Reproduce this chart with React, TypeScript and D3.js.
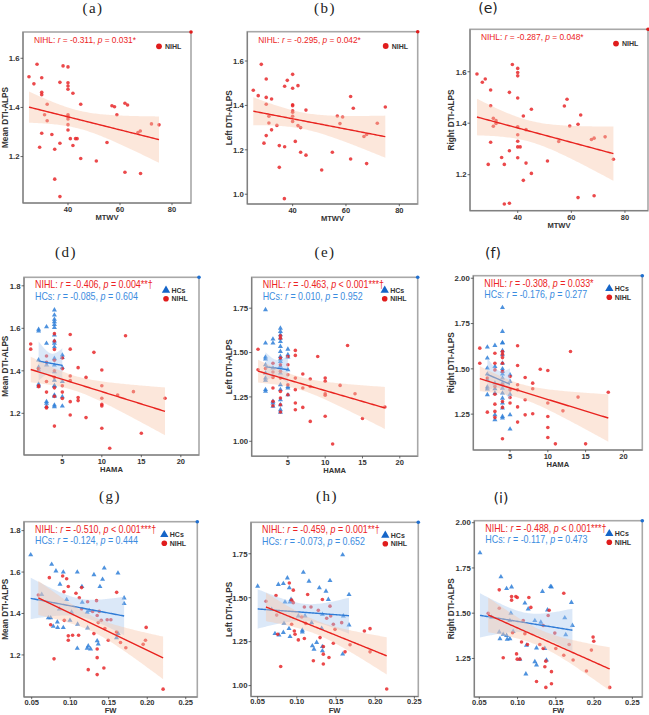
import React from "react";
import * as d3 from "d3";

type Pt = [number, number];

// ---------- data ----------
// row 1: MTWV vs DTI-ALPS (NIHL only)
const mtwvMeanNIHL: Pt[] = [
  [25, 1.525], [26.9, 1.496], [28.1, 1.576], [29.9, 1.521], [29.9, 1.462], [29.9, 1.452], [32, 1.413], [31, 1.37],
  [32, 1.346], [29.9, 1.295], [29.1, 1.238], [33.8, 1.29], [34.9, 1.23], [34.9, 1.108], [36.9, 1.037], [36.9, 1.254],
  [36.9, 1.502], [38.1, 1.569], [40, 1.565], [40, 1.5], [40, 1.487], [40, 1.474], [40, 1.37], [40, 1.363], [40, 1.353],
  [40, 1.33], [40, 1.308], [40.9, 1.273], [41.9, 1.458], [41.9, 1.245], [42.9, 1.273], [43.5, 1.273], [44.9, 1.413],
  [44.9, 1.192], [50.9, 1.182], [55, 1.257], [56.9, 1.407], [57.9, 1.403], [58.8, 1.37], [61.9, 1.417], [62.9, 1.41],
  [61.9, 1.136], [66.9, 1.298], [67.8, 1.304], [67.9, 1.131], [72.1, 1.333], [75, 1.329],
];
const mtwvLeftNIHL: Pt[] = [
  [25.25, 1.468], [27.1, 1.444], [28.25, 1.585], [29.25, 1.23], [30.1, 1.519], [30.1, 1.436], [30.1, 1.405], [30.1, 1.264],
  [31.1, 1.351], [31.1, 1.321], [32.1, 1.429], [32.1, 1.29], [34.1, 1.31], [35, 1.219], [35, 1.121], [36.9, 0.98],
  [37, 1.486], [37, 1.214], [38, 1.513], [40, 1.54], [40, 1.477], [40, 1.403], [40, 1.399], [40, 1.376], [40, 1.369],
  [40, 1.351], [40, 1.328], [41, 1.238], [42, 1.489], [42, 1.309], [43, 1.3], [43, 1.189], [45, 1.379], [45, 1.176],
  [50.9, 1.109], [54.9, 1.189], [56.75, 1.352], [57.75, 1.318], [58.75, 1.348], [61.75, 1.44], [62.75, 1.387],
  [61.75, 1.159], [66.75, 1.26], [67.75, 1.269], [67.75, 1.138], [71.75, 1.32], [74.75, 1.393],
];
const mtwvRightNIHL: Pt[] = [
  [24.8, 1.591], [26.8, 1.559], [27.9, 1.572], [29, 1.24], [29.9, 1.529], [29.9, 1.468], [29.9, 1.326], [30.9, 1.419],
  [30.9, 1.388], [31.9, 1.41], [31.9, 1.399], [34, 1.267], [35, 1.24], [35, 1.086], [36.9, 1.52], [36.9, 1.293],
  [36.9, 1.089], [38, 1.628], [40, 1.613], [40, 1.597], [40, 1.584], [40, 1.498], [40, 1.386], [40, 1.355], [40, 1.33],
  [40, 1.308], [40, 1.266], [40.9, 1.308], [42.1, 1.428], [42.1, 1.178], [43.1, 1.375], [43.1, 1.245], [45.1, 1.454],
  [45.1, 1.205], [51.1, 1.253], [55.3, 1.329], [57.4, 1.467], [58.4, 1.493], [59.4, 1.389], [62.5, 1.396],
  [63.5, 1.432], [62.5, 1.111], [67.5, 1.337], [68.5, 1.342], [68.5, 1.118], [72.6, 1.347], [75.7, 1.26],
];

// row 2: HAMA vs DTI-ALPS
const hamaMeanHC: Pt[] = [
  [2, 1.595], [2, 1.587], [2, 1.451], [2, 1.417], [2, 1.404], [2, 1.337], [2, 1.328],
  [3, 1.607], [3, 1.529], [3, 1.427], [3, 1.255], [3, 1.247], [3, 1.232],
  [4, 1.686], [4, 1.662], [4, 1.642], [4, 1.631], [4, 1.618], [4, 1.604], [4, 1.568], [4, 1.54], [4, 1.529],
  [4, 1.513], [4, 1.458], [4, 1.427], [4, 1.395], [4, 1.356], [4, 1.328], [4, 1.286], [4, 1.239], [4, 1.231],
  [4, 1.33], [4, 1.28],
  [5, 1.474], [5, 1.463], [5, 1.416], [5, 1.349], [5, 1.278], [5, 1.234],
];
const hamaMeanNIHL: Pt[] = [
  [1, 1.526], [1, 1.502], [2, 1.41], [2, 1.33], [2, 1.325],
  [3, 1.47], [3, 1.44], [3, 1.35], [3, 1.3], [3, 1.23], [3, 1.225],
  [4, 1.575], [4, 1.54], [4, 1.5], [4, 1.45], [4, 1.4], [4, 1.37], [4, 1.32], [4, 1.28], [4, 1.14],
  [5, 1.46], [5, 1.41], [5, 1.33], [5, 1.3], [5, 1.27],
  [6, 1.571], [6, 1.502], [6, 1.376], [6, 1.354], [6, 1.255], [6, 1.192],
  [7, 1.415], [7, 1.274], [7, 1.26], [8, 1.369], [8, 1.18], [9, 1.487],
  [10, 1.404], [10, 1.33], [10, 1.271], [10, 1.242], [10, 1.235], [10, 1.13],
  [11, 1.036], [12, 1.286], [13, 1.565], [14, 1.302], [15, 1.106], [18, 1.271],
];
const hamaLeftHC: Pt[] = [
  [2, 1.741], [2, 1.553], [2, 1.474], [2, 1.463], [2, 1.431], [2, 1.384], [2, 1.356], [2, 1.343], [2, 1.291], [2, 1.281],
  [3, 1.576], [3, 1.553], [3, 1.412], [3, 1.225], [3, 1.216], [3, 1.197],
  [4, 1.637], [4, 1.619], [4, 1.6], [4, 1.581], [4, 1.562], [4, 1.534], [4, 1.506], [4, 1.478], [4, 1.463],
  [4, 1.45], [4, 1.422], [4, 1.384], [4, 1.319], [4, 1.291], [4, 1.234], [4, 1.206], [4, 1.178], [4, 1.163],
  [5, 1.519], [5, 1.488], [5, 1.474], [5, 1.403], [5, 1.309], [5, 1.3], [5, 1.262],
];
const hamaLeftNIHL: Pt[] = [
  [1, 1.519], [1, 1.403], [2, 1.41],
  [3, 1.44], [3, 1.39], [3, 1.36], [3, 1.3], [3, 1.225], [3, 1.2],
  [4, 1.594], [4, 1.581], [4, 1.469], [4, 1.431], [4, 1.394], [4, 1.356], [4, 1.281], [4, 1.244], [4, 1.206], [4, 1.165],
  [5, 1.478], [5, 1.431], [5, 1.375], [5, 1.319], [5, 1.262],
  [6, 1.512], [6, 1.484], [6, 1.356], [6, 1.291], [6, 1.216], [6, 1.178],
  [7, 1.379], [7, 1.3], [7, 1.191], [8, 1.351], [8, 1.309], [8, 1.112], [9, 1.478],
  [10, 1.356], [10, 1.338], [10, 1.268], [10, 1.259], [10, 1.141],
  [11, 0.985], [12, 1.315], [13, 1.54], [14, 1.268], [15, 1.128], [18, 1.193],
];
const hamaRightHC: Pt[] = [
  [2, 1.62], [2, 1.559], [2, 1.504], [2, 1.471], [2, 1.439], [2, 1.4], [2, 1.388], [2, 1.357],
  [3, 1.629], [3, 1.513], [3, 1.421], [3, 1.39], [3, 1.366], [3, 1.246], [3, 1.219],
  [4, 1.838], [4, 1.706], [4, 1.645], [4, 1.642], [4, 1.6], [4, 1.577], [4, 1.531], [4, 1.5], [4, 1.485], [4, 1.471],
  [4, 1.449], [4, 1.421], [4, 1.393], [4, 1.366], [4, 1.338], [4, 1.311], [4, 1.283], [4, 1.237], [4, 1.228],
  [5, 1.467], [5, 1.43], [5, 1.36], [5, 1.246], [5, 1.167],
];
const hamaRightNIHL: Pt[] = [
  [1, 1.614], [1, 1.531], [2, 1.449], [2, 1.261],
  [3, 1.586], [3, 1.531], [3, 1.494], [3, 1.403], [3, 1.36], [3, 1.305], [3, 1.265], [3, 1.232],
  [4, 1.596], [4, 1.581], [4, 1.562], [4, 1.531], [4, 1.485], [4, 1.412], [4, 1.32], [4, 1.287], [4, 1.114],
  [5, 1.458], [5, 1.384], [5, 1.342], [5, 1.311],
  [6, 1.627], [6, 1.518], [6, 1.412], [6, 1.384], [6, 1.29], [6, 1.206],
  [7, 1.452], [7, 1.329], [7, 1.246], [8, 1.421], [8, 1.39], [8, 1.252], [9, 1.498],
  [10, 1.491], [10, 1.311], [10, 1.237], [10, 1.176], [10, 1.121],
  [11, 1.086], [12, 1.268], [13, 1.596], [14, 1.344], [15, 1.086], [18, 1.371],
];

// row 3: FW vs DTI-ALPS
const fwMeanHC: Pt[] = [
  [0.0487, 1.683], [0.0759, 1.637], [0.0815, 1.605], [0.091, 1.6], [0.1092, 1.6], [0.1308, 1.587], [0.1442, 1.619],
  [0.162, 1.595], [0.142, 1.565], [0.1152, 1.53], [0.1386, 1.53], [0.0867, 1.541], [0.17, 1.475], [0.17, 1.448],
  [0.0954, 1.467], [0.1156, 1.454], [0.063, 1.492], [0.0716, 1.379], [0.0746, 1.379], [0.078, 1.338], [0.0833, 1.359],
  [0.0837, 1.332], [0.091, 1.332], [0.0997, 1.367], [0.1096, 1.348], [0.0859, 1.422], [0.1018, 1.406], [0.122, 1.406],
  [0.1247, 1.414], [0.1092, 1.232], [0.122, 1.232], [0.1234, 1.243], [0.1264, 1.229], [0.135, 1.268], [0.1364, 1.252],
  [0.1226, 1.33], [0.1623, 1.303], [0.1601, 1.283],
];
const fwMeanNIHL: Pt[] = [
  [0.0586, 1.489], [0.0729, 1.573], [0.0746, 1.346], [0.079, 1.181], [0.0902, 1.581], [0.0954, 1.568], [0.0975, 1.53],
  [0.0919, 1.505], [0.0923, 1.367], [0.0975, 1.292], [0.0975, 1.271], [0.1031, 1.295], [0.1075, 1.498], [0.1118, 1.476],
  [0.1148, 1.525], [0.1109, 1.295], [0.1234, 1.129], [0.1148, 1.422], [0.1226, 1.457], [0.1291, 1.41], [0.1308, 1.303],
  [0.1342, 1.462], [0.135, 1.39], [0.1377, 1.41], [0.1364, 1.356], [0.135, 1.229], [0.135, 1.187], [0.135, 1.105],
  [0.1437, 1.137], [0.1403, 1.367], [0.145, 1.327], [0.148, 1.37], [0.1528, 1.37], [0.1494, 1.271], [0.1603, 1.502],
  [0.1601, 1.311], [0.1653, 1.26], [0.1722, 1.235], [0.1947, 1.251], [0.1977, 1.271], [0.1986, 1.333], [0.2206, 1.035],
];
const fwLeftHC: Pt[] = [
  [0.05, 1.565], [0.0764, 1.575], [0.0828, 1.58], [0.0879, 1.612], [0.0904, 1.556], [0.1083, 1.644], [0.1155, 1.594],
  [0.1287, 1.556], [0.1423, 1.597], [0.1372, 1.537], [0.1585, 1.744], [0.1402, 1.49], [0.1666, 1.518], [0.1666, 1.345],
  [0.1585, 1.179], [0.1594, 1.396], [0.0913, 1.475], [0.0849, 1.475], [0.0926, 1.49], [0.0721, 1.296], [0.0772, 1.288],
  [0.0828, 1.302], [0.09, 1.324], [0.0913, 1.279], [0.0836, 1.354], [0.1019, 1.396], [0.107, 1.305], [0.1104, 1.396],
  [0.107, 1.315], [0.1189, 1.358], [0.1198, 1.226], [0.1219, 1.207], [0.1253, 1.245], [0.1317, 1.326], [0.1326, 1.222],
  [0.1326, 1.198], [0.1326, 1.405], [0.0679, 1.433],
];
const fwLeftNIHL: Pt[] = [
  [0.0606, 1.48], [0.0734, 1.513], [0.0743, 1.401], [0.0755, 1.292], [0.0794, 1.109], [0.0904, 1.584], [0.0934, 1.486],
  [0.0955, 1.471], [0.0955, 1.543], [0.0934, 1.349], [0.0968, 1.311], [0.0977, 1.292], [0.1019, 1.26], [0.1062, 1.39],
  [0.1096, 1.447], [0.1113, 1.354], [0.1096, 1.268], [0.1138, 1.518], [0.1181, 1.447], [0.1211, 1.141], [0.1274, 1.428],
  [0.1296, 1.273], [0.1326, 1.49], [0.1338, 1.222], [0.1338, 1.179], [0.1338, 1.123], [0.1381, 1.383], [0.141, 1.16],
  [0.1423, 1.452], [0.1432, 1.396], [0.1466, 1.349], [0.1487, 1.32], [0.1466, 1.241], [0.1572, 1.358], [0.1615, 1.192],
  [0.1679, 1.232], [0.1862, 1.311], [0.1934, 1.324], [0.1934, 1.192], [0.2147, 0.981],
];
const fwRightHC: Pt[] = [
  [0.0509, 1.833], [0.0783, 1.701], [0.0857, 1.636], [0.0922, 1.645], [0.1096, 1.556], [0.1326, 1.62], [0.143, 1.647],
  [0.1443, 1.645], [0.1704, 1.559], [0.1391, 1.518], [0.1617, 1.474], [0.1717, 1.432], [0.0661, 1.478], [0.0913, 1.5],
  [0.09, 1.459], [0.0761, 1.396], [0.0813, 1.383], [0.0857, 1.377], [0.09, 1.359], [0.0865, 1.356], [0.077, 1.359],
  [0.0943, 1.399], [0.103, 1.245], [0.1139, 1.523], [0.1117, 1.323], [0.1109, 1.164], [0.1226, 1.459], [0.1248, 1.308],
  [0.1304, 1.45], [0.1226, 1.232], [0.1248, 1.214], [0.1357, 1.305], [0.1378, 1.241], [0.163, 1.381],
];
const fwRightNIHL: Pt[] = [
  [0.0617, 1.5], [0.0761, 1.629], [0.0761, 1.527], [0.0813, 1.254], [0.0922, 1.592], [0.0978, 1.592], [0.0996, 1.587],
  [0.0922, 1.572], [0.0935, 1.392], [0.0987, 1.275], [0.0996, 1.246], [0.1031, 1.246], [0.1052, 1.341], [0.1096, 1.387],
  [0.113, 1.327], [0.1148, 1.587], [0.1174, 1.532], [0.1074, 1.459], [0.1248, 1.123], [0.1291, 1.327], [0.1335, 1.432],
  [0.1335, 1.305], [0.137, 1.235], [0.1357, 1.204], [0.137, 1.09], [0.14, 1.487], [0.1413, 1.516], [0.1443, 1.177],
  [0.1443, 1.11], [0.1487, 1.39], [0.15, 1.305], [0.1604, 1.61], [0.1604, 1.268], [0.1726, 1.241], [0.1674, 1.327],
  [0.1965, 1.296], [0.1987, 1.368], [0.1996, 1.345], [0.19, 1.181], [0.2204, 1.09],
];

// correlation labels: [r, p-text]
const nihlStats: [string, string][] = [
  ["-0.311", "= 0.031*"], ["-0.295", "= 0.042*"], ["-0.287", "= 0.048*"],
  ["-0.406", "= 0.004**†"], ["-0.463", "< 0.001***†"], ["-0.308", "= 0.033*"],
  ["-0.510", "< 0.001***†"], ["-0.459", "= 0.001**†"], ["-0.488", "< 0.001***†"],
];
const hcStats: ([string, string] | null)[] = [
  null, null, null,
  ["-0.085", "= 0.604"], ["0.010", "= 0.952"], ["-0.176", "= 0.277"],
  ["-0.124", "= 0.444"], ["-0.073", "= 0.652"], ["-0.117", "= 0.473"],
];

const titles = ["(a)", "(b)", "(e)", "(d)", "(e)", "(f)", "(g)", "(h)", "(i)"];
const mtwvTicks = [40, 60, 80];
const hamaTicks = [5, 10, 15, 20];
const fwTicks = [0.05, 0.1, 0.15, 0.2, 0.25];

// ---------- layout ----------
const FONT = "'Liberation Sans', Arial, sans-serif";
const RED = "#E8292B";
const BLUE = "#2F7FD8";

type Panel = {
  box: [number, number, number, number]; // left, top, right, bottom
  xDom: [number, number];
  yDom: [number, number];
  xTicks: number[];
  yTicks: number[];
  xFmt: string;
  yFmt: string;
  xTitle: string;
  xLabDy: number;
  xTitleDy: number;
  yTitle: string;
  yTitleX: number;
  serif: boolean;
  titleX: number;
  titleY: number;
  nihl: Pt[];
  hcs: Pt[] | null;
  annSize: number;
};

const panels: Panel[] = [
  { box: [23, 32, 191, 203], xDom: [22.7, 87.3], yDom: [1.011, 1.707], xTicks: mtwvTicks, yTicks: [1.2, 1.4, 1.6], xFmt: "d", yFmt: ".1f",
    xTitle: "MTWV", xLabDy: 9, xTitleDy: 16.8, yTitle: "Mean DTI-ALPS", yTitleX: 8, serif: true, titleX: 93, titleY: 12.5, nihl: mtwvMeanNIHL, hcs: null, annSize: 9.4 },
  { box: [247.3, 31.7, 417.7, 204], xDom: [23, 86.9], yDom: [0.956, 1.732], xTicks: mtwvTicks, yTicks: [1.0, 1.2, 1.4, 1.6], xFmt: "d", yFmt: ".1f",
    xTitle: "MTWV", xLabDy: 9, xTitleDy: 16.8, yTitle: "Left DTI-ALPS", yTitleX: 232, serif: true, titleX: 325, titleY: 12.5, nihl: mtwvLeftNIHL, hcs: null, annSize: 9.4 },
  { box: [470, 29.3, 648, 210.7], xDom: [22.2, 88.6], yDom: [1.06, 1.765], xTicks: mtwvTicks, yTicks: [1.2, 1.4, 1.6], xFmt: "d", yFmt: ".1f",
    xTitle: "MTWV", xLabDy: 9, xTitleDy: 16.8, yTitle: "Right DTI-ALPS", yTitleX: 453.5, serif: false, titleX: 488, titleY: 12.5, nihl: mtwvRightNIHL, hcs: null, annSize: 9.4 },
  { box: [24, 277.3, 199, 455], xDom: [0.15, 22.3], yDom: [1.004, 1.84], xTicks: hamaTicks, yTicks: [1.2, 1.4, 1.6, 1.8], xFmt: "d", yFmt: ".1f",
    xTitle: "HAMA", xLabDy: 8.8, xTitleDy: 17.2, yTitle: "Mean DTI-ALPS", yTitleX: 8, serif: true, titleX: 66, titleY: 257, nihl: hamaMeanNIHL, hcs: hamaMeanHC, annSize: 10 },
  { box: [251.7, 277.3, 417.7, 456.2], xDom: [0.15, 22.4], yDom: [0.916, 1.924], xTicks: hamaTicks, yTicks: [1.0, 1.25, 1.5, 1.75], xFmt: "d", yFmt: ".2f",
    xTitle: "HAMA", xLabDy: 8.6, xTitleDy: 17.2, yTitle: "Left DTI-ALPS", yTitleX: 232, serif: true, titleX: 325, titleY: 257, nihl: hamaLeftNIHL, hcs: hamaLeftHC, annSize: 10 },
  { box: [473.3, 275.7, 642.3, 450], xDom: [0.14, 22.5], yDom: [1.052, 2.014], xTicks: hamaTicks, yTicks: [1.25, 1.5, 1.75, 2.0], xFmt: "d", yFmt: ".2f",
    xTitle: "HAMA", xLabDy: 8.8, xTitleDy: 17.2, yTitle: "Right DTI-ALPS", yTitleX: 453.5, serif: false, titleX: 493, titleY: 258, nihl: hamaRightNIHL, hcs: hamaRightHC, annSize: 10 },
  { box: [24, 521.7, 197.3, 697], xDom: [0.04, 0.265], yDom: [0.997, 1.843], xTicks: fwTicks, yTicks: [1.2, 1.4, 1.6, 1.8], xFmt: ".2f", yFmt: ".1f",
    xTitle: "FW", xLabDy: 7.8, xTitleDy: 16.2, yTitle: "Mean DTI-ALPS", yTitleX: 8, serif: true, titleX: 110, titleY: 501, nihl: fwMeanNIHL, hcs: fwMeanHC, annSize: 10 },
  { box: [251, 522.3, 418.3, 696.5], xDom: [0.0415, 0.255], yDom: [0.938, 1.929], xTicks: fwTicks, yTicks: [1.0, 1.25, 1.5, 1.75], xFmt: ".2f", yFmt: ".2f",
    xTitle: "FW", xLabDy: 7.8, xTitleDy: 16.5, yTitle: "Left DTI-ALPS", yTitleX: 232, serif: true, titleX: 327, titleY: 501, nihl: fwLeftNIHL, hcs: fwLeftHC, annSize: 10 },
  { box: [474.3, 520.7, 642.3, 697], xDom: [0.0435, 0.263], yDom: [1.037, 2.011], xTicks: fwTicks, yTicks: [1.25, 1.5, 1.75, 2.0], xFmt: ".2f", yFmt: ".2f",
    xTitle: "FW", xLabDy: 7.8, xTitleDy: 16.2, yTitle: "Right DTI-ALPS", yTitleX: 453.5, serif: false, titleX: 501, titleY: 503, nihl: fwRightNIHL, hcs: fwRightHC, annSize: 10 },
];

// linear fit with 95% confidence band (like geom_smooth(method = "lm"))
function fitBand(pts: Pt[]) {
  const n = pts.length;
  const mx = d3.mean(pts, (p) => p[0])!;
  const my = d3.mean(pts, (p) => p[1])!;
  const sxx = d3.sum(pts, (p) => (p[0] - mx) ** 2);
  const sxy = d3.sum(pts, (p) => (p[0] - mx) * (p[1] - my));
  const b = sxy / sxx;
  const a = my - b * mx;
  const s = Math.sqrt(d3.sum(pts, (p) => (p[1] - a - b * p[0]) ** 2) / (n - 2));
  const t = 1.96 + 2.5 / (n - 2);
  const [x0, x1] = d3.extent(pts, (p) => p[0]) as [number, number];
  return d3.range(0, 81).map((i) => {
    const x = x0 + ((x1 - x0) * i) / 80;
    const y = a + b * x;
    const se = s * Math.sqrt(1 / n + (x - mx) ** 2 / sxx);
    return { x, y, lo: y - t * se, hi: y + t * se };
  });
}

const tri = d3.symbol(d3.symbolTriangle, 11)()!;
const triBig = d3.symbol(d3.symbolTriangle, 30)()!;

function Squeezed({ x, y, size, fill, children }: { x: number; y: number; size: number; fill: string; children: React.ReactNode }) {
  return (
    <g transform={`translate(${x},${y}) scale(0.89,1)`}>
      <text x={0} y={0} fontSize={size} fill={fill} fontFamily={FONT}>
        {children}
      </text>
    </g>
  );
}

function StatLine({ label, stat }: { label: string; stat: [string, string] }) {
  return (
    <>
      {label}: <tspan fontStyle="italic">r</tspan> = {stat[0]}, <tspan fontStyle="italic">p</tspan> {stat[1]}
    </>
  );
}

function ScatterPanel({ p, idx }: { p: Panel; idx: number }) {
  const [L, T, R, B] = p.box;
  const x = d3.scaleLinear().domain(p.xDom).range([L, R]);
  const y = d3.scaleLinear().domain(p.yDom).range([B, T]);
  const fx = d3.format(p.xFmt);
  const fy = d3.format(p.yFmt);
  const clip = `clip${idx}`;

  const area = d3
    .area<{ x: number; lo: number; hi: number }>()
    .x((d) => x(d.x))
    .y0((d) => y(d.lo))
    .y1((d) => y(d.hi));
  const line = d3
    .line<{ x: number; y: number }>()
    .x((d) => x(d.x))
    .y((d) => y(d.y));

  const nihlFit = fitBand(p.nihl);
  const hcFit = p.hcs ? fitBand(p.hcs) : null;
  const stat = nihlStats[idx];
  const hstat = hcStats[idx];
  const cornerColor = p.hcs ? "#1f6fd0" : "#e01c1c";

  return (
    <g>
      <defs>
        <clipPath id={clip}>
          <rect x={L} y={T} width={R - L} height={B - T} />
        </clipPath>
      </defs>
      <rect x={L} y={T} width={R - L} height={B - T} fill="#fff" />

      <g clipPath={`url(#${clip})`}>
        {p.hcs &&
          p.hcs.map((d, i) => (
            <path key={"h" + i} d={tri} transform={`translate(${x(d[0])},${y(d[1])})`} fill={BLUE} opacity={0.85} />
          ))}
        {p.nihl.map((d, i) => (
          <circle key={"n" + i} cx={x(d[0])} cy={y(d[1])} r={1.8} fill={RED} opacity={0.85} />
        ))}
        {hcFit && (
          <>
            <path d={area(hcFit)!} fill="#a9c8ee" opacity={0.42} />
            <path d={line(hcFit)!} fill="none" stroke="#2f7bd6" strokeWidth={1.4} />
          </>
        )}
        <path d={area(nihlFit)!} fill="#f8c6aa" opacity={0.42} />
        <path d={line(nihlFit)!} fill="none" stroke="#e8231f" strokeWidth={1.4} />
      </g>

      {/* panel frame */}
      <rect x={L} y={T} width={R - L} height={B - T} fill="none" stroke="#a8a8a8" strokeWidth={1.6} />
      <line x1={L} x2={L} y1={T} y2={B} stroke="#777" strokeWidth={1} />
      <line x1={L} x2={R} y1={B} y2={B} stroke="#777" strokeWidth={1} />
      <circle cx={R} cy={T} r={1.8} fill={cornerColor} />

      {/* y axis */}
      {p.yTicks.map((t) => (
        <g key={"y" + t}>
          <line x1={L - 2.5} x2={L} y1={y(t)} y2={y(t)} stroke="#444" strokeWidth={0.8} />
          <text x={L - 3.5} y={y(t) + 2.8} textAnchor="end" fontSize={7.8} fontWeight="bold" fill="#333" fontFamily={FONT}>
            {fy(t)}
          </text>
        </g>
      ))}
      {/* x axis */}
      {p.xTicks.map((t) => (
        <g key={"x" + t}>
          <line x1={x(t)} x2={x(t)} y1={B} y2={B + 2.2} stroke="#444" strokeWidth={0.8} />
          <text x={x(t)} y={B + p.xLabDy} textAnchor="middle" fontSize={7.5} fontWeight="bold" fill="#333" fontFamily={FONT}>
            {fx(t)}
          </text>
        </g>
      ))}
      <text x={(L + R) / 2} y={B + p.xTitleDy} textAnchor="middle" fontSize={7.6} fontWeight="bold" fill="#333" fontFamily={FONT}>
        {p.xTitle}
      </text>
      <text
        transform={`translate(${p.yTitleX},${(T + B) / 2}) rotate(-90)`}
        textAnchor="middle"
        fontSize={8.2}
        fontWeight="bold"
        fill="#333"
        fontFamily={FONT}
      >
        {p.yTitle}
      </text>

      {/* correlation text */}
      <Squeezed x={L + 11} y={T + 10.8} size={p.annSize} fill="#ec2424">
        <StatLine label="NIHL" stat={stat} />
      </Squeezed>
      {hstat && (
        <Squeezed x={L + 11} y={T + 22.3} size={p.annSize} fill="#3b8ce0">
          <StatLine label="HCs" stat={hstat} />
        </Squeezed>
      )}

      {/* legend */}
      {p.hcs ? (
        <>
          <path d={triBig} transform={`translate(${R - 33},${T + 13})`} fill="#1565c8" />
          <text x={R - 27.5} y={T + 15.5} fontSize={7} fontWeight="bold" fill="#333" fontFamily={FONT}>HCs</text>
          <circle cx={R - 33} cy={T + 21.5} r={2.8} fill="#e01c1c" />
          <text x={R - 27.5} y={T + 24} fontSize={7} fontWeight="bold" fill="#333" fontFamily={FONT}>NIHL</text>
        </>
      ) : (
        <>
          <circle cx={R - 32} cy={T + 14.3} r={2.9} fill="#e01c1c" />
          <text x={R - 26} y={T + 16.8} fontSize={7} fontWeight="bold" fill="#333" fontFamily={FONT}>NIHL</text>
        </>
      )}

      {/* panel letter */}
      <text
        x={p.titleX}
        y={p.titleY}
        textAnchor="middle"
        fontSize={p.serif ? 15 : 14}
        letterSpacing={p.serif ? 1.5 : 0}
        fill="#222"
        fontFamily={p.serif ? "'Liberation Serif', 'DejaVu Serif', serif" : "'DejaVu Sans', sans-serif"}
      >
        {titles[idx]}
      </text>
    </g>
  );
}

export default function App() {
  return (
    <svg width={649} height={715} style={{ position: "absolute", left: 0, top: 0, background: "#fff" }}>
      <rect x={0} y={0} width={649} height={715} fill="#fff" />
      {panels.map((p, i) => (
        <ScatterPanel key={i} p={p} idx={i} />
      ))}
    </svg>
  );
}
